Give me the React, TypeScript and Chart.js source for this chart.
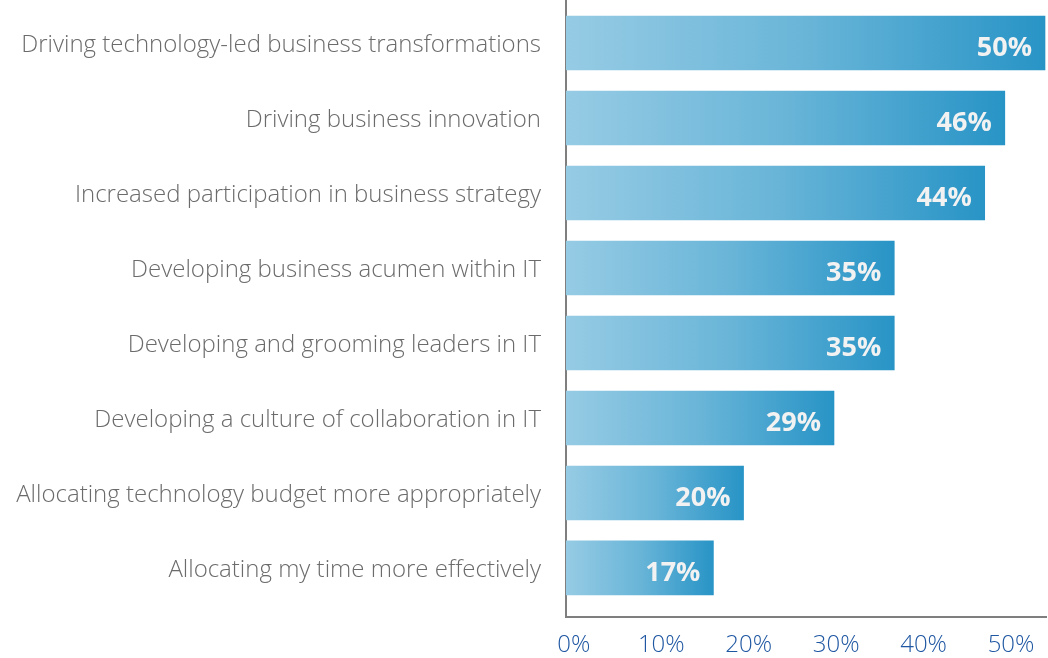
import React, { useEffect, useRef } from "react";
import { Chart, registerables } from "chart.js";

Chart.register(...registerables);

const CATEGORIES = [
  "Driving technology-led business transformations",
  "Driving business innovation",
  "Increased participation in business strategy",
  "Developing business acumen within IT",
  "Developing and grooming leaders in IT",
  "Developing a culture of collaboration in IT",
  "Allocating technology budget more appropriately",
  "Allocating my time more effectively",
];
const VALUES = [50, 46, 44, 35, 35, 29, 20, 17];
const TICK_VALUES = [0, 10, 20, 30, 40, 50];

const FONT_FAMILY = "'Open Sans', 'DejaVu Sans', sans-serif";

export default function App() {
  const ref = useRef<HTMLCanvasElement>(null);

  useEffect(() => {
    const canvas = ref.current;
    if (!canvas) return;
    const ctx = canvas.getContext("2d");
    if (!ctx) return;

    const valueLabels = {
      id: "valueLabels",
      afterDatasetsDraw(chart: any) {
        const c = chart.ctx;
        const meta = chart.getDatasetMeta(0);
        c.save();
        c.font = `bold 27px ${FONT_FAMILY}`;
        c.fillStyle = "#f2f2f2";
        c.textAlign = "right";
        c.textBaseline = "middle";
        meta.data.forEach((bar: any, i: number) => {
          c.fillText(VALUES[i] + "%", bar.x - 13, bar.y + 5);
        });
        c.restore();
      },
    };

    const chart = new Chart(ctx, {
      type: "bar",
      data: {
        datasets: [
          {
            data: VALUES.map((v, i) => ({ x: v, y: i })),
            backgroundColor: (context: any) => {
              const ch = context.chart;
              const area = ch.chartArea;
              if (!area || !context.raw) return "#5ab0d8";
              const end = ch.scales.x.getPixelForValue(context.raw.x);
              const g = ch.ctx.createLinearGradient(area.left, 0, end, 0);
              g.addColorStop(0, "#96cbe4");
              g.addColorStop(0.5, "#69b5d8");
              g.addColorStop(1, "#2894c6");
              return g;
            },
            borderWidth: 0,
            barThickness: 54,
          },
        ],
      },
      options: {
        indexAxis: "y",
        animation: false,
        responsive: false,
        layout: { padding: { top: 0, right: 2, bottom: 0, left: 0 } },
        plugins: {
          legend: { display: false },
          tooltip: { enabled: false },
        },
        scales: {
          y: {
            type: "linear",
            reverse: true,
            offset: false,
            min: -0.573,
            max: 7.654,
            afterBuildTicks: (s: any) => {
              s.ticks = CATEGORIES.map((_, i) => ({ value: i }));
            },
            afterFit: (s: any) => {
              s.width = 566;
              s.paddingTop = 0;
              s.paddingBottom = 0;
            },
            ticks: {
              autoSkip: false,
              padding: 25,
              labelOffset: 2,
              color: "#6b6b6b",
              font: { family: FONT_FAMILY, size: 24, weight: "300" },
              callback: (v: any) => CATEGORIES[v as number],
            },
            grid: { display: false, drawTicks: false },
            border: { display: true, color: "#7f7f7f", width: 2 },
          },
          x: {
            type: "linear",
            display: false,
            min: 2.33,
            max: 50.1,
          },
          x2: {
            type: "linear",
            position: "bottom",
            min: -0.9,
            max: 54.0,
            afterBuildTicks: (s: any) => {
              s.ticks = TICK_VALUES.map((v) => ({ value: v }));
            },
            afterFit: (s: any) => {
              s.height = 41;
              s.paddingLeft = 0;
              s.paddingRight = 0;
            },
            ticks: {
              autoSkip: false,
              maxRotation: 0,
              padding: 14,
              color: "#1f57a2",
              font: { family: FONT_FAMILY, size: 24, weight: "300" },
              callback: (v: any) => v + "%",
            },
            grid: { display: false, drawTicks: false },
            border: { display: true, color: "#7f7f7f", width: 2 },
          },
        },
      },
      plugins: [valueLabels],
    } as any);

    return () => chart.destroy();
  }, []);

  return (
    <div style={{ position: "fixed", left: 0, top: 0, width: 1048, height: 658, background: "#ffffff" }}>
      <canvas ref={ref} width={1048} height={658} style={{ display: "block" }} />
    </div>
  );
}
